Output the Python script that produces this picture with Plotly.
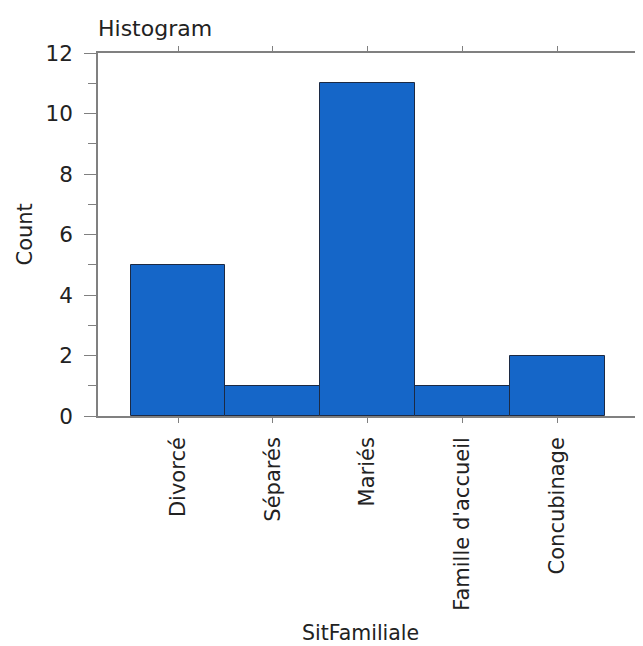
import plotly.graph_objects as go

categories = ["Divorcé", "Séparés", "Mariés", "Famille d'accueil", "Concubinage"]
counts = [5, 1, 11, 1, 2]
y_ticks = [0, 2, 4, 6, 8, 10, 12]

FONT = "DejaVu Sans"
AX = "#808080"
TXT = "#222222"

fig = go.Figure()
fig.add_trace(go.Bar(
    x=list(range(len(categories))), y=counts,
    marker=dict(color="#1566c8", line=dict(color="#1c2a44", width=1)),
    width=1.0,
))

fig.update_layout(
    width=643, height=646,
    margin=dict(l=90, r=0, t=45, b=238),
    paper_bgcolor="white", plot_bgcolor="white",
    showlegend=False, bargap=0,
    font=dict(family=FONT, color=TXT, size=20),
    title=dict(text="Histogram", x=0.0, xanchor="left", xref="paper",
               y=0.969, yanchor="middle", yref="container",
               font=dict(size=22, family=FONT, color=TXT)),
    xaxis=dict(
        range=[-0.844, 4.842], tickmode="array",
        tickvals=list(range(len(categories))), ticktext=categories,
        tickangle=-90, ticks="outside", ticklen=5, tickcolor=AX,
        showline=True, linecolor=AX, linewidth=1.5, mirror="ticks",
        showgrid=False, zeroline=False, ticklabelstandoff=6,
        tickfont=dict(size=21, family=FONT, color=TXT),
    ),
    yaxis=dict(
        range=[0, 12], tickmode="array", tickvals=y_ticks,
        ticks="outside", ticklen=12, tickcolor=AX,
        minor=dict(dtick=1, ticks="outside", ticklen=8, tickcolor=AX),
        showline=True, linecolor=AX, linewidth=1.5, mirror="ticks",
        showgrid=False, zeroline=False, ticklabelstandoff=7,
        tickfont=dict(size=21.5, family=FONT, color=TXT),
    ),
    annotations=[
        dict(text="Count", xref="paper", yref="paper", x=-0.1345, y=0.4986,
             xanchor="center", yanchor="middle", textangle=-90, showarrow=False,
             font=dict(size=21, family=FONT, color=TXT)),
        dict(text="SitFamiliale", xref="paper", yref="paper", x=0.487, y=-0.5978,
             xanchor="center", yanchor="middle", showarrow=False,
             font=dict(size=20.5, family=FONT, color=TXT)),
    ],
)

fig.write_html("out.html")
